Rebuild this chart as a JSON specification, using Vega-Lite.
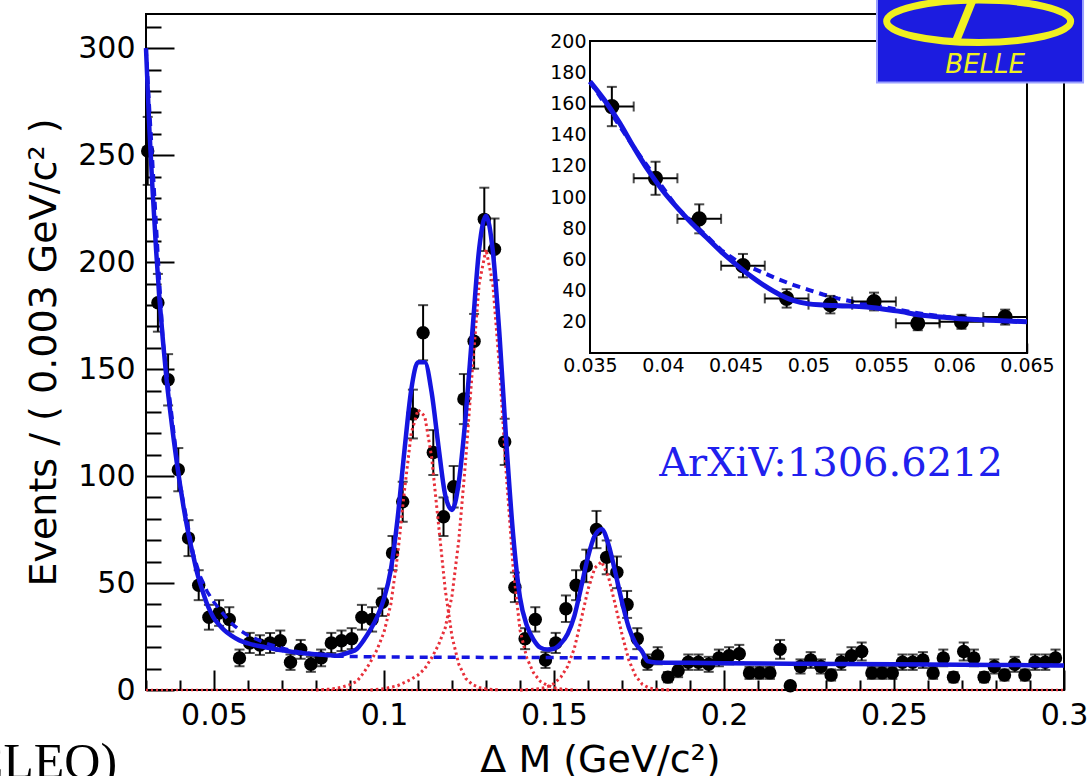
{
  "$schema": "https://vega.github.io/schema/vega-lite/v6.json",
  "width": 918,
  "height": 676,
  "autosize": {"type": "none"},
  "padding": {"left": 146, "top": 14, "right": 28, "bottom": 86},
  "background": "white",
  "config": {
    "view": {"stroke": "#000", "strokeWidth": 2},
    "axis": {"labelFont": "DejaVu Sans", "titleFont": "DejaVu Sans", "labelColor": "#000", "titleColor": "#000", "tickColor": "#000", "domain": false, "grid": false, "zindex": 2, "labelOverlap": false, "labelFlush": false, "labelBound": false, "titleFontWeight": "normal"}
  },
  "datasets": {
    "pts": [
      {"x":0.0305,"y":252,"e":15.9},{"x":0.0335,"y":181,"e":13.5},{"x":0.0365,"y":145,"e":12},{"x":0.0395,"y":103,"e":10.1},
      {"x":0.0425,"y":71,"e":8.4},{"x":0.0455,"y":49,"e":7},{"x":0.0485,"y":34,"e":5.8},{"x":0.0515,"y":36,"e":6},
      {"x":0.0545,"y":33,"e":5.7},{"x":0.0575,"y":15,"e":3.9},{"x":0.0605,"y":22,"e":4.7},{"x":0.0635,"y":21,"e":4.6},
      {"x":0.0665,"y":22,"e":4.7},{"x":0.0695,"y":23,"e":4.8},{"x":0.0725,"y":13,"e":3.6},{"x":0.0755,"y":19,"e":4.4},
      {"x":0.0785,"y":12,"e":3.5},{"x":0.0815,"y":15,"e":3.9},{"x":0.0845,"y":22,"e":4.7},{"x":0.0875,"y":23,"e":4.8},
      {"x":0.0905,"y":24,"e":4.9},{"x":0.0935,"y":34,"e":5.8},{"x":0.0965,"y":33,"e":5.7},{"x":0.0995,"y":41,"e":6.4},
      {"x":0.1025,"y":64,"e":8},{"x":0.1055,"y":88,"e":9.4},{"x":0.1085,"y":129,"e":11.4},{"x":0.1115,"y":167,"e":12.9},
      {"x":0.1145,"y":111,"e":10.5},{"x":0.1175,"y":81,"e":9},{"x":0.1205,"y":95,"e":9.7},{"x":0.1235,"y":136,"e":11.7},
      {"x":0.1265,"y":163,"e":12.8},{"x":0.1295,"y":220,"e":14.8},{"x":0.1325,"y":206,"e":14.4},{"x":0.1355,"y":116,"e":10.8},
      {"x":0.1385,"y":48,"e":6.9},{"x":0.1415,"y":24,"e":4.9},{"x":0.1445,"y":33,"e":5.7},{"x":0.1475,"y":14,"e":3.7},
      {"x":0.1505,"y":22,"e":4.7},{"x":0.1535,"y":38,"e":6.2},{"x":0.1565,"y":49,"e":7},{"x":0.1595,"y":58,"e":7.6},
      {"x":0.1625,"y":75,"e":8.7},{"x":0.1655,"y":62,"e":7.9},{"x":0.1685,"y":55,"e":7.4},{"x":0.1715,"y":40,"e":6.3},
      {"x":0.1745,"y":24,"e":4.9},{"x":0.1775,"y":13,"e":3.6},{"x":0.1805,"y":16,"e":4},{"x":0.1835,"y":6,"e":2.4},
      {"x":0.1865,"y":9,"e":3},{"x":0.1895,"y":13,"e":3.6},{"x":0.1925,"y":13,"e":3.6},{"x":0.1955,"y":12,"e":3.5},
      {"x":0.1985,"y":15,"e":3.9},{"x":0.2015,"y":16,"e":4},{"x":0.2045,"y":17,"e":4.1},{"x":0.2075,"y":8,"e":2.8},
      {"x":0.2105,"y":8,"e":2.8},{"x":0.2135,"y":8,"e":2.8},{"x":0.2165,"y":19,"e":4.4},{"x":0.2195,"y":2,"e":1.4},
      {"x":0.2225,"y":11,"e":3.3},{"x":0.2255,"y":14,"e":3.7},{"x":0.2285,"y":11,"e":3.3},{"x":0.2315,"y":7,"e":2.6},
      {"x":0.2345,"y":13,"e":3.6},{"x":0.2375,"y":16,"e":4},{"x":0.2405,"y":18,"e":4.2},{"x":0.2435,"y":8,"e":2.8},
      {"x":0.2465,"y":8,"e":2.8},{"x":0.2495,"y":8,"e":2.8},{"x":0.2525,"y":13,"e":3.6},{"x":0.2555,"y":13,"e":3.6},
      {"x":0.2585,"y":14,"e":3.7},{"x":0.2615,"y":8,"e":2.8},{"x":0.2645,"y":15,"e":3.9},{"x":0.2675,"y":6,"e":2.4},
      {"x":0.2705,"y":18,"e":4.2},{"x":0.2735,"y":15,"e":3.9},{"x":0.2765,"y":6,"e":2.4},{"x":0.2795,"y":11,"e":3.3},
      {"x":0.2825,"y":7,"e":2.6},{"x":0.2855,"y":12,"e":3.5},{"x":0.2885,"y":7,"e":2.6},{"x":0.2915,"y":13,"e":3.6},
      {"x":0.2945,"y":13,"e":3.6},{"x":0.2975,"y":15,"e":3.9}
    ],
    "curves": [
      {"c":"zero","x":0.03,"y":0},{"c":"zero","x":0.3,"y":0},
      {"c":"fit","x":0.030,"y":300},{"c":"fit","x":0.031,"y":262},{"c":"fit","x":0.032,"y":232},{"c":"fit","x":0.033,"y":205},
      {"c":"fit","x":0.034,"y":182},{"c":"fit","x":0.035,"y":163},{"c":"fit","x":0.036,"y":146},{"c":"fit","x":0.037,"y":132},
      {"c":"fit","x":0.038,"y":119},{"c":"fit","x":0.039,"y":107},{"c":"fit","x":0.040,"y":96},{"c":"fit","x":0.041,"y":86},
      {"c":"fit","x":0.042,"y":77},{"c":"fit","x":0.043,"y":69},{"c":"fit","x":0.044,"y":62},{"c":"fit","x":0.045,"y":55},
      {"c":"fit","x":0.046,"y":49.5},{"c":"fit","x":0.047,"y":44.5},{"c":"fit","x":0.048,"y":40},{"c":"fit","x":0.049,"y":36.5},
      {"c":"fit","x":0.050,"y":33.5},{"c":"fit","x":0.0515,"y":30.5},{"c":"fit","x":0.053,"y":28},{"c":"fit","x":0.055,"y":25.5},
      {"c":"fit","x":0.0575,"y":23.2},{"c":"fit","x":0.060,"y":21.8},{"c":"fit","x":0.065,"y":20},{"c":"fit","x":0.070,"y":18.6},
      {"c":"fit","x":0.075,"y":17.4},{"c":"fit","x":0.080,"y":16.7},{"c":"fit","x":0.084,"y":16.3},{"c":"fit","x":0.086,"y":16.0},
      {"c":"fit","x":0.088,"y":16.7},{"c":"fit","x":0.090,"y":17.7},{"c":"fit","x":0.092,"y":19.2},{"c":"fit","x":0.094,"y":23.2},
      {"c":"fit","x":0.096,"y":28.2},{"c":"fit","x":0.098,"y":34.2},{"c":"fit","x":0.100,"y":42.7},{"c":"fit","x":0.102,"y":56.2},
      {"c":"fit","x":0.104,"y":80.2},{"c":"fit","x":0.106,"y":111.7},{"c":"fit","x":0.108,"y":140.2},{"c":"fit","x":0.110,"y":153.2},
      {"c":"fit","x":0.112,"y":153.2},{"c":"fit","x":0.114,"y":139.2},{"c":"fit","x":0.116,"y":114.2},{"c":"fit","x":0.118,"y":91.2},
      {"c":"fit","x":0.120,"y":84.2},{"c":"fit","x":0.122,"y":97.2},{"c":"fit","x":0.124,"y":127.7},{"c":"fit","x":0.126,"y":167.7},
      {"c":"fit","x":0.128,"y":206.4},{"c":"fit","x":0.130,"y":221.7},{"c":"fit","x":0.132,"y":205.2},{"c":"fit","x":0.134,"y":165.2},
      {"c":"fit","x":0.136,"y":115.2},{"c":"fit","x":0.138,"y":72.2},{"c":"fit","x":0.140,"y":43.2},{"c":"fit","x":0.142,"y":30.2},
      {"c":"fit","x":0.144,"y":23.5},{"c":"fit","x":0.146,"y":19.8},{"c":"fit","x":0.148,"y":18.9},{"c":"fit","x":0.150,"y":19.3},
      {"c":"fit","x":0.152,"y":21.7},{"c":"fit","x":0.154,"y":26.2},{"c":"fit","x":0.156,"y":34.7},{"c":"fit","x":0.158,"y":48.2},
      {"c":"fit","x":0.160,"y":62.2},{"c":"fit","x":0.162,"y":72.2},{"c":"fit","x":0.164,"y":75.2},{"c":"fit","x":0.166,"y":68.2},
      {"c":"fit","x":0.168,"y":55.2},{"c":"fit","x":0.170,"y":41.2},{"c":"fit","x":0.172,"y":29.2},{"c":"fit","x":0.174,"y":21.8},
      {"c":"fit","x":0.176,"y":17.8},{"c":"fit","x":0.1775,"y":13.5},{"c":"fit","x":0.180,"y":12.9},{"c":"fit","x":0.190,"y":12.7},
      {"c":"fit","x":0.200,"y":12.5},{"c":"fit","x":0.220,"y":12.3},{"c":"fit","x":0.250,"y":12.0},{"c":"fit","x":0.280,"y":11.7},
      {"c":"fit","x":0.300,"y":11.5},
      {"c":"bkg","x":0.030,"y":300},{"c":"bkg","x":0.035,"y":163},{"c":"bkg","x":0.040,"y":96},{"c":"bkg","x":0.044,"y":63},
      {"c":"bkg","x":0.046,"y":53},{"c":"bkg","x":0.048,"y":46},{"c":"bkg","x":0.050,"y":41},{"c":"bkg","x":0.052,"y":37},
      {"c":"bkg","x":0.054,"y":33},{"c":"bkg","x":0.056,"y":30},{"c":"bkg","x":0.058,"y":27.5},{"c":"bkg","x":0.060,"y":25.5},
      {"c":"bkg","x":0.065,"y":22},{"c":"bkg","x":0.070,"y":19.5},{"c":"bkg","x":0.075,"y":17.8},{"c":"bkg","x":0.080,"y":16.6},
      {"c":"bkg","x":0.086,"y":15.8},{"c":"bkg","x":0.100,"y":15.4},{"c":"bkg","x":0.1775,"y":15.0},
      {"c":"s1","x":0.080,"y":0},{"c":"s1","x":0.084,"y":0.4},{"c":"s1","x":0.086,"y":0.8},{"c":"s1","x":0.088,"y":1.5},
      {"c":"s1","x":0.090,"y":2.5},{"c":"s1","x":0.092,"y":4},{"c":"s1","x":0.094,"y":8},{"c":"s1","x":0.096,"y":13},
      {"c":"s1","x":0.098,"y":19},{"c":"s1","x":0.100,"y":27},{"c":"s1","x":0.102,"y":40},{"c":"s1","x":0.104,"y":63},
      {"c":"s1","x":0.106,"y":93},{"c":"s1","x":0.108,"y":120},{"c":"s1","x":0.110,"y":131},{"c":"s1","x":0.112,"y":128},
      {"c":"s1","x":0.114,"y":109},{"c":"s1","x":0.116,"y":78},{"c":"s1","x":0.118,"y":47},{"c":"s1","x":0.120,"y":25},
      {"c":"s1","x":0.122,"y":12},{"c":"s1","x":0.124,"y":5.5},{"c":"s1","x":0.126,"y":2.5},{"c":"s1","x":0.128,"y":1.2},
      {"c":"s1","x":0.130,"y":0.5},{"c":"s1","x":0.134,"y":0},
      {"c":"s2","x":0.096,"y":0},{"c":"s2","x":0.100,"y":0.6},{"c":"s2","x":0.104,"y":2},{"c":"s2","x":0.106,"y":3.5},
      {"c":"s2","x":0.108,"y":5},{"c":"s2","x":0.110,"y":7},{"c":"s2","x":0.112,"y":10},{"c":"s2","x":0.114,"y":15},
      {"c":"s2","x":0.116,"y":21},{"c":"s2","x":0.118,"y":29},{"c":"s2","x":0.120,"y":44},{"c":"s2","x":0.122,"y":70},
      {"c":"s2","x":0.124,"y":107},{"c":"s2","x":0.126,"y":150},{"c":"s2","x":0.128,"y":190},{"c":"s2","x":0.130,"y":206},
      {"c":"s2","x":0.132,"y":190},{"c":"s2","x":0.134,"y":150},{"c":"s2","x":0.136,"y":100},{"c":"s2","x":0.138,"y":57},
      {"c":"s2","x":0.140,"y":28},{"c":"s2","x":0.142,"y":15},{"c":"s2","x":0.144,"y":8},{"c":"s2","x":0.146,"y":4},
      {"c":"s2","x":0.148,"y":2.2},{"c":"s2","x":0.150,"y":1.1},{"c":"s2","x":0.152,"y":0.5},{"c":"s2","x":0.156,"y":0},
      {"c":"s3","x":0.140,"y":0},{"c":"s3","x":0.144,"y":0.3},{"c":"s3","x":0.146,"y":0.6},{"c":"s3","x":0.148,"y":1.5},
      {"c":"s3","x":0.150,"y":3},{"c":"s3","x":0.152,"y":6},{"c":"s3","x":0.154,"y":11},{"c":"s3","x":0.156,"y":19.5},
      {"c":"s3","x":0.158,"y":33},{"c":"s3","x":0.160,"y":47},{"c":"s3","x":0.162,"y":57},{"c":"s3","x":0.164,"y":60},
      {"c":"s3","x":0.166,"y":53},{"c":"s3","x":0.168,"y":40},{"c":"s3","x":0.170,"y":26},{"c":"s3","x":0.172,"y":14},
      {"c":"s3","x":0.174,"y":6.6},{"c":"s3","x":0.176,"y":2.6},{"c":"s3","x":0.178,"y":0.9},{"c":"s3","x":0.180,"y":0.3},
      {"c":"s3","x":0.184,"y":0}
    ],
    "ins": [
      {"x":0.0365,"y":158,"e":12.6,"ex":0.0015},{"x":0.0395,"y":112,"e":10.6,"ex":0.0015},{"x":0.0425,"y":86,"e":9.3,"ex":0.0015},
      {"x":0.0455,"y":56,"e":7.5,"ex":0.0015},{"x":0.0485,"y":35,"e":5.9,"ex":0.0015},{"x":0.0515,"y":31,"e":5.6,"ex":0.0015},
      {"x":0.0545,"y":33,"e":5.7,"ex":0.0015},{"x":0.0575,"y":19,"e":4.4,"ex":0.0015},{"x":0.0605,"y":20,"e":4.5,"ex":0.0015},
      {"x":0.0635,"y":23,"e":4.8,"ex":0.0015}
    ],
    "icurves": [
      {"c":"fit","x":0.035,"y":174},{"c":"fit","x":0.036,"y":162},{"c":"fit","x":0.037,"y":148},{"c":"fit","x":0.038,"y":132},
      {"c":"fit","x":0.039,"y":117},{"c":"fit","x":0.040,"y":104},{"c":"fit","x":0.041,"y":93},{"c":"fit","x":0.042,"y":83},
      {"c":"fit","x":0.043,"y":74},{"c":"fit","x":0.044,"y":65},{"c":"fit","x":0.045,"y":57},{"c":"fit","x":0.046,"y":49.5},
      {"c":"fit","x":0.047,"y":43},{"c":"fit","x":0.048,"y":37.5},{"c":"fit","x":0.049,"y":33.5},{"c":"fit","x":0.050,"y":31.5},
      {"c":"fit","x":0.051,"y":30.8},{"c":"fit","x":0.052,"y":30.3},{"c":"fit","x":0.054,"y":29.5},{"c":"fit","x":0.056,"y":27},
      {"c":"fit","x":0.058,"y":24},{"c":"fit","x":0.060,"y":22.3},{"c":"fit","x":0.0625,"y":21},{"c":"fit","x":0.065,"y":20},
      {"c":"bkg","x":0.035,"y":174},{"c":"bkg","x":0.038,"y":132},{"c":"bkg","x":0.041,"y":93},{"c":"bkg","x":0.044,"y":66},
      {"c":"bkg","x":0.045,"y":59.5},{"c":"bkg","x":0.046,"y":55},{"c":"bkg","x":0.047,"y":51},{"c":"bkg","x":0.048,"y":47},
      {"c":"bkg","x":0.049,"y":43.5},{"c":"bkg","x":0.050,"y":40.5},{"c":"bkg","x":0.051,"y":37.5},{"c":"bkg","x":0.052,"y":35},
      {"c":"bkg","x":0.053,"y":33},{"c":"bkg","x":0.054,"y":31.3},{"c":"bkg","x":0.056,"y":28},{"c":"bkg","x":0.058,"y":24.8},
      {"c":"bkg","x":0.060,"y":22.5},{"c":"bkg","x":0.0625,"y":21},{"c":"bkg","x":0.065,"y":20}
    ]
  },
  "layer": [
    {
      "resolve": {"axis": {"x": "independent", "y": "independent"}},
      "layer": [
        {
          "data": {"values": [{}]},
          "mark": {"type": "rect", "fill": "white", "stroke": "#000", "strokeWidth": 2},
          "encoding": {
            "x": {"datum": 0.035, "type": "quantitative",
              "scale": {"domain": [0.035, 0.065], "range": [444, 881], "nice": false, "zero": false},
              "axis": {
                "orient": "bottom", "offset": -337,
                "values": [0.035,0.04,0.045,0.05,0.055,0.06,0.065],
                "labelExpr": "format(datum.value, '~g')",
                "tickSize": -10, "tickWidth": 1.5,
                "labelFontSize": 19, "labelPadding": 13, "title": null
              }},
            "x2": {"datum": 0.065},
            "y": {"datum": 0, "type": "quantitative",
              "scale": {"domain": [0, 200], "range": [339, 27], "nice": false, "zero": false},
              "axis": {
                "orient": "left", "offset": -444,
                "values": [20,40,60,80,100,120,140,160,180,200],
                "tickSize": -12, "tickWidth": 1.5,
                "labelFontSize": 19, "labelPadding": 16, "title": null
              }},
            "y2": {"datum": 200}
          }
        },
        {
          "data": {"name": "icurves"},
          "transform": [{"filter": "datum.c === 'bkg'"}],
          "mark": {"type": "line", "color": "#1515e0", "strokeWidth": 4, "strokeDash": [8, 6]},
          "encoding": {
            "x": {"field": "x", "type": "quantitative",
              "axis": {
                "orient": "bottom", "offset": -337,
                "values": [0.036,0.037,0.038,0.039,0.041,0.042,0.043,0.044,0.046,0.047,0.048,0.049,0.051,0.052,0.053,0.054,0.056,0.057,0.058,0.059,0.061,0.062,0.063,0.064],
                "labels": false, "tickSize": -5, "tickWidth": 1.5, "title": null
              }},
            "y": {"field": "y", "type": "quantitative",
              "axis": {
                "orient": "left", "offset": -444,
                "values": [4,8,12,16,24,28,32,36,44,48,52,56,64,68,72,76,84,88,92,96,104,108,112,116,124,128,132,136,144,148,152,156,164,168,172,176,184,188,192,196],
                "labels": false, "tickSize": -6, "tickWidth": 1.5, "title": null
              }}
          }
        },
        {
          "data": {"name": "ins"},
          "mark": {"type": "errorbar", "ticks": {"size": 10, "thickness": 2, "color": "#000"}, "rule": {"strokeWidth": 2, "color": "#000"}},
          "encoding": {
            "x": {"field": "x", "type": "quantitative", "axis": null},
            "y": {"field": "y", "type": "quantitative", "axis": null},
            "yError": {"field": "e"}
          }
        },
        {
          "data": {"name": "ins"},
          "mark": {"type": "errorbar", "ticks": {"size": 10, "thickness": 2, "color": "#000"}, "rule": {"strokeWidth": 2, "color": "#000"}},
          "encoding": {
            "x": {"field": "x", "type": "quantitative", "axis": null},
            "y": {"field": "y", "type": "quantitative", "axis": null},
            "xError": {"field": "ex"}
          }
        },
        {
          "data": {"name": "ins"},
          "mark": {"type": "circle", "size": 230, "color": "#000", "opacity": 1},
          "encoding": {
            "x": {"field": "x", "type": "quantitative", "axis": null},
            "y": {"field": "y", "type": "quantitative", "axis": null}
          }
        },
        {
          "data": {"name": "icurves"},
          "transform": [{"filter": "datum.c === 'fit'"}],
          "mark": {"type": "line", "color": "#1515e0", "strokeWidth": 5, "interpolate": "monotone"},
          "encoding": {
            "x": {"field": "x", "type": "quantitative", "axis": null},
            "y": {"field": "y", "type": "quantitative", "axis": null}
          }
        }
      ]
    },
    {
      "resolve": {"axis": {"x": "independent", "y": "independent"}},
      "layer": [
        {
          "data": {"name": "curves"},
          "transform": [{"filter": "datum.c === 'zero'"}],
          "mark": {"type": "line", "color": "#e8303a", "strokeWidth": 2.5, "strokeDash": [2, 3]},
          "encoding": {
            "x": {"field": "x", "type": "quantitative",
              "scale": {"domain": [0.03, 0.3], "nice": false, "zero": false},
              "axis": {
                "orient": "bottom",
                "values": [0.05,0.1,0.15,0.2,0.25,0.3],
                "labelExpr": "format(datum.value, '~g')",
                "tickSize": -20, "tickWidth": 2,
                "labelFontSize": 30, "labelPadding": 30,
                "title": "Δ M (GeV/c²)",
                "titleFontSize": 38, "titleX": 454, "titleY": 81, "titleBaseline": "alphabetic"
              }},
            "y": {"field": "y", "type": "quantitative",
              "scale": {"domain": [0, 316], "nice": false, "zero": false},
              "axis": {
                "orient": "left",
                "values": [0,50,100,150,200,250,300],
                "tickSize": -28, "tickWidth": 2,
                "labelFontSize": 30, "labelPadding": 39,
                "title": "Events / ( 0.003 GeV/c² )",
                "titleFontSize": 38, "titleX": -91, "titleY": 338, "titleAngle": -90,
                "titleBaseline": "alphabetic", "titleAlign": "center"
              }}
          }
        },
        {
          "data": {"name": "pts"},
          "mark": {"type": "errorbar", "ticks": {"size": 10, "thickness": 2, "color": "#000"}, "rule": {"strokeWidth": 2, "color": "#000"}},
          "encoding": {
            "x": {"field": "x", "type": "quantitative", "axis": null},
            "y": {"field": "y", "type": "quantitative", "axis": null},
            "yError": {"field": "e"}
          }
        },
        {
          "data": {"name": "pts"},
          "mark": {"type": "tick", "orient": "horizontal", "size": 10, "thickness": 2, "color": "#000"},
          "encoding": {
            "x": {"field": "x", "type": "quantitative", "axis": null},
            "y": {"field": "y", "type": "quantitative", "axis": null}
          }
        },
        {
          "data": {"name": "pts"},
          "mark": {"type": "circle", "size": 180, "color": "#000", "opacity": 1},
          "encoding": {
            "x": {"field": "x", "type": "quantitative", "axis": null},
            "y": {"field": "y", "type": "quantitative", "axis": null}
          }
        },
        {
          "data": {"name": "curves"},
          "transform": [{"filter": "datum.c === 's1' || datum.c === 's2' || datum.c === 's3'"}],
          "mark": {"type": "line", "color": "#e8303a", "strokeWidth": 3, "strokeDash": [2.5, 3]},
          "encoding": {
            "x": {"field": "x", "type": "quantitative", "axis": null},
            "y": {"field": "y", "type": "quantitative", "axis": null},
            "detail": {"field": "c"}
          }
        },
        {
          "data": {"name": "curves"},
          "transform": [{"filter": "datum.c === 'bkg'"}],
          "mark": {"type": "line", "color": "#1515e0", "strokeWidth": 3.5, "strokeDash": [8, 6]},
          "encoding": {
            "x": {"field": "x", "type": "quantitative",
              "axis": {
                "orient": "bottom",
                "values": [0.03,0.04,0.06,0.07,0.08,0.09,0.11,0.12,0.13,0.14,0.16,0.17,0.18,0.19,0.21,0.22,0.23,0.24,0.26,0.27,0.28,0.29],
                "labels": false, "tickSize": -10, "tickWidth": 2, "title": null
              }},
            "y": {"field": "y", "type": "quantitative",
              "axis": {
                "orient": "left",
                "values": [10,20,30,40,60,70,80,90,110,120,130,140,160,170,180,190,210,220,230,240,260,270,280,290,310],
                "labels": false, "tickSize": -15, "tickWidth": 2, "title": null
              }}
          }
        },
        {
          "data": {"name": "curves"},
          "transform": [{"filter": "datum.c === 'fit'"}],
          "mark": {"type": "line", "color": "#1515e0", "strokeWidth": 4.5, "interpolate": "monotone"},
          "encoding": {
            "x": {"field": "x", "type": "quantitative", "axis": null},
            "y": {"field": "y", "type": "quantitative", "axis": null}
          }
        },
        {
          "data": {"values": [{}]},
          "mark": {"type": "text", "text": "ArXiV:1306.6212", "font": "DejaVu Serif", "fontSize": 40, "color": "#2020ee", "align": "center", "baseline": "alphabetic"},
          "encoding": {"x": {"datum": 0.2315, "axis": null}, "y": {"datum": 100, "axis": null}}
        },
        {
          "data": {"values": [{}]},
          "mark": {"type": "text", "text": "CLEO)", "font": "Liberation Serif", "fontSize": 50, "color": "#000", "align": "right", "baseline": "alphabetic"},
          "encoding": {"x": {"datum": 0.0215, "axis": null}, "y": {"datum": -41, "axis": null}}
        },
        {
          "data": {"values": [{}]},
          "mark": {"type": "rect", "fill": "#1c1ce0", "stroke": "#9aa0ff", "strokeWidth": 2},
          "encoding": {"x": {"datum": 0.245, "axis": null}, "x2": {"datum": 0.3056}, "y": {"datum": 284, "axis": null}, "y2": {"datum": 330}}
        },
        {
          "data": {"values": [{}]},
          "mark": {"type": "point", "shape": "M -1 0 A 1 0.23 0 1 1 1 0 A 1 0.23 0 1 1 -1 0 Z", "size": 33856, "filled": false, "stroke": "#f0f020", "strokeWidth": 7, "opacity": 1},
          "encoding": {"x": {"datum": 0.2749, "axis": null}, "y": {"datum": 312.6, "axis": null}}
        },
        {
          "data": {"values": [{}]},
          "mark": {"type": "rule", "stroke": "#f0f020", "strokeWidth": 8},
          "encoding": {"x": {"datum": 0.2681, "axis": null}, "y": {"datum": 302.8, "axis": null}, "x2": {"datum": 0.2750}, "y2": {"datum": 330}}
        },
        {
          "data": {"values": [{}]},
          "mark": {"type": "text", "text": "BELLE", "font": "DejaVu Sans", "fontSize": 26, "fontStyle": "italic", "color": "#f0f020", "align": "center", "baseline": "alphabetic"},
          "encoding": {"x": {"datum": 0.2768, "axis": null}, "y": {"datum": 288.3, "axis": null}}
        }
      ]
    }
  ],
  "resolve": {"scale": {"x": "independent", "y": "independent"}}
}
